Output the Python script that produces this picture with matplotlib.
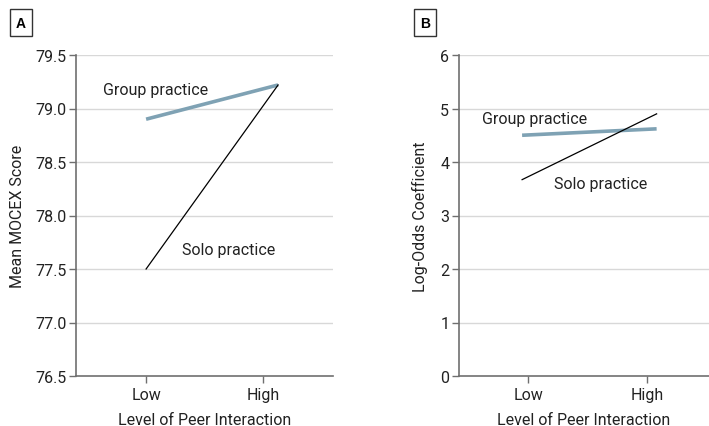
import matplotlib
matplotlib.use("Agg")
import matplotlib.pyplot as plt

plt.rcParams['font.family'] = ['Roboto', 'DejaVu Sans']

levels = ["Low", "High"]
level_pos = [0, 1]

# panel A - mean MOCEX score
a_x = [0, 1.13]
a_group = [78.9, 79.22]
a_solo = [77.5, 79.22]
a_yticks = [76.5, 77.0, 77.5, 78.0, 78.5, 79.0, 79.5]

# panel B - log-odds coefficient
b_x = [-0.05, 1.08]
b_group = [4.5, 4.62]
b_solo = [3.67, 4.9]
b_yticks = [0, 1, 2, 3, 4, 5, 6]

group_col = "#7fa2b4"
spine_col = "#6f6f6f"
grid_col = "#d8d8d8"
txt_col = "#222222"
fs = 11.5

fig = plt.figure(figsize=(7.09, 4.27), dpi=100)
W, H = 709, 427

def make_ax(l, r, t, b):
    return fig.add_axes([l / W, 1 - b / H, (r - l) / W, (b - t) / H])

def style(ax, yticks, fmt):
    ax.set_xticks(level_pos)
    ax.set_xticklabels(levels)
    ax.set_yticks(yticks)
    ax.set_yticklabels([fmt.format(v) for v in yticks])
    ax.set_ylim(yticks[0], yticks[-1])
    for s in ["top", "right"]:
        ax.spines[s].set_visible(False)
    for s in ["left", "bottom"]:
        ax.spines[s].set_color(spine_col)
        ax.spines[s].set_linewidth(1.2)
    ax.tick_params(colors=spine_col, labelcolor=txt_col, labelsize=fs, length=5, width=1)
    ax.tick_params(axis="x", pad=3)
    ax.tick_params(axis="y", pad=2)
    for v in yticks[1:]:
        ax.axhline(v, color=grid_col, lw=1, zorder=0)
    ax.set_xlabel("Level of Peer Interaction", fontsize=fs, color=txt_col, labelpad=7)

axA = make_ax(76, 333, 56, 377)
axA.plot(a_x, a_group, color=group_col, lw=2.6, solid_capstyle="butt")
axA.plot(a_x, a_solo, color="black", lw=0.9)
axA.set_xlim(-0.6, 1.6)
style(axA, a_yticks, "{:.1f}")
axA.set_ylabel("Mean MOCEX Score", fontsize=fs, color=txt_col, labelpad=7)
axA.text(-0.37, 79.18, "Group practice", fontsize=fs, color=txt_col, va="center")
axA.text(0.31, 77.68, "Solo practice", fontsize=fs, color=txt_col, va="center")

axB = make_ax(459, 709, 56, 377)
axB.plot(b_x, b_group, color=group_col, lw=2.6, solid_capstyle="butt")
axB.plot(b_x, b_solo, color="black", lw=0.9)
axB.set_xlim(-0.58, 1.52)
style(axB, b_yticks, "{:d}")
axB.set_ylabel("Log-Odds Coefficient", fontsize=fs, color=txt_col, labelpad=9)
axB.text(-0.39, 4.82, "Group practice", fontsize=fs, color=txt_col, va="center")
axB.text(0.22, 3.6, "Solo practice", fontsize=fs, color=txt_col, va="center")

# panel letters
for lbl, x in [("A", 21), ("B", 425)]:
    fig.text(x / W, 1 - 23.5 / H, lbl, fontsize=10, fontweight="bold", ha="center", va="center",
             family=["Liberation Sans", "DejaVu Sans"],
             bbox=dict(boxstyle="square,pad=0.45", fc="white", ec="#333333", lw=1))

fig.savefig("out.png", dpi=100)
